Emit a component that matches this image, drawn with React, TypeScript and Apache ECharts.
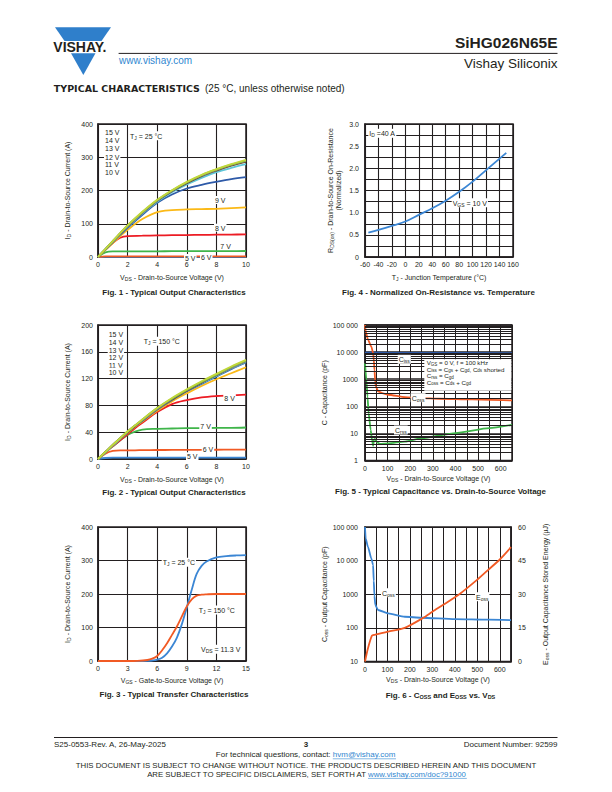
import React, { useEffect, useRef } from 'react';
import * as echarts from 'echarts';

const FONT = '"Liberation Sans", Arial, Helvetica, sans-serif';
const INK = '#231f20';
const LBLUE = '#3b86d4';
const DBLUE = '#2e5aa8';
const ORANGE = '#f15a24';
const GREEN = '#3fb54a';
const RED = '#ec1c24';
const YELLOW = '#fbb917';
const LIME = '#c2d83a';
const CYAN = '#5ec6d8';
const BROWN = '#6b3f22';
const GREY = '#8a8a8a';
const MGREEN = '#7cb342';
const LINK = '#2f86d0';
const LOGO = '#2f7fcb';

// ---------- Fig. 1 (TJ = 25 °C) ----------
const fig1Vds = [0, 0.5, 1, 1.5, 2, 3, 4, 5, 6, 7, 8, 9, 10];
const fig1I15 = [0, 24, 48, 72, 95, 136, 172, 201, 226, 247, 264, 279, 292];
const fig1I14 = [0, 24, 48, 72, 95, 135, 171, 200, 225, 246, 263, 278, 290];
const fig1I13 = [0, 24, 48, 71, 94, 134, 170, 199, 224, 245, 262, 277, 289];
const fig1I12 = [0, 23, 47, 70, 93, 133, 169, 198, 222, 243, 260, 275, 287];
const fig1I11 = [0, 23, 46, 69, 91, 131, 166, 195, 218, 238, 255, 268, 279];
const fig1I10 = [0, 22, 45, 67, 88, 127, 163, 188, 206, 217, 226, 234, 240];
const fig1I9 = [0, 21, 42, 63, 82, 114, 135, 141, 143, 144, 145, 147, 149];
const fig1I8 = [0, 22, 42, 58, 63, 64, 65, 65.5, 66, 66.5, 67, 67.5, 68];
const fig1I7 = [0, 14, 17, 17, 17, 17, 17.2, 17.4, 17.5, 17.6, 17.8, 17.9, 18];
const fig1I6 = [0, 1.8, 2, 2, 2, 2, 2, 2, 2, 2, 2, 2, 2];
const fig1I5 = [0, 0.5, 0.5, 0.5, 0.5, 0.5, 0.5, 0.5, 0.5, 0.5, 0.5, 0.5, 0.5];

// ---------- Fig. 2 (TJ = 150 °C) ----------
const fig2Vds = [0, 0.5, 1, 1.5, 2, 2.5, 3, 4, 5, 6, 7, 8, 9, 10];
const fig2I15 = [0, 10.5, 21, 31, 41, 50, 59, 76, 91, 104, 116, 127, 138, 148];
const fig2I14 = [0, 10.5, 21, 31, 41, 50, 59, 76, 90, 103, 115, 126, 137, 147];
const fig2I13 = [0, 10.5, 21, 31, 41, 50, 58, 75, 90, 103, 115, 126, 136, 146.5];
const fig2I12 = [0, 10.5, 21, 31, 40, 49, 58, 75, 89, 102, 114, 125, 136, 146];
const fig2I11 = [0, 10, 20, 30, 40, 49, 58, 75, 89, 102, 113, 124, 135, 145];
const fig2I10 = [0, 10, 20, 30, 40, 49, 57, 74, 88, 101, 112, 123, 134, 144];
const fig2I9 = [0, 10, 20, 30, 39, 48, 56, 72, 86, 98, 109, 119, 128, 137];
const fig2I8 = [0, 10, 19, 28, 37, 46, 54, 70, 82, 88, 92, 94, 95, 96];
const fig2I7 = [0, 10, 19, 28, 36, 41, 44, 45, 45.5, 46, 46, 46.5, 46.5, 47];
const fig2I6 = [0, 8, 12, 13, 13, 13, 13.2, 13.4, 13.5, 13.6, 13.7, 13.8, 13.9, 14];
const fig2I5 = [0, 1.5, 2, 2, 2, 2, 2, 2, 2, 2, 2, 2, 2, 2];

// ---------- Fig. 3 (transfer) ----------
const fig3Vgs = [0, 3, 4, 5, 5.5, 6, 6.5, 7, 7.5, 8, 8.5, 9, 9.5, 10, 10.5, 11, 12, 13, 14, 15];
const fig3I25 = [0, 0, 0, 0.5, 1.5, 4, 10, 23, 43, 70, 110, 160, 213, 260, 284, 297, 309, 313, 315, 316];
const fig3I150 = [0, 0, 0.5, 3, 7, 15, 32, 53, 78, 103, 133, 163, 184, 195, 198, 199, 200, 200, 200, 200];

// ---------- Fig. 4 (normalized RDS(on)) ----------
const fig4Tj = [-55, -40, -20, 0, 20, 40, 60, 80, 100, 120, 140, 150];
const fig4Rn = [0.55, 0.61, 0.7, 0.8, 0.95, 1.1, 1.27, 1.47, 1.7, 1.96, 2.22, 2.35];

// ---------- Fig. 5 (capacitances) ----------
const fig5CissV = [0, 100, 300, 650];
const fig5Ciss = [9600, 9400, 9300, 9200];
const fig5CossV = [0, 3, 13, 28, 36, 39, 42, 45, 48, 58, 80, 103, 177, 250, 326, 474, 650];
const fig5Coss = [100000, 58000, 29000, 16000, 9200, 5000, 2200, 900, 540, 355, 300, 267, 218, 200, 190, 180, 165];
const fig5CrssV = [0, 6, 11, 16, 25, 31, 36, 40, 44, 52, 66, 103, 177, 251, 400, 549, 650];
const fig5Crss = [3900, 950, 230, 56, 13.6, 5.8, 3.5, 6.0, 6.3, 4.8, 4.1, 4.3, 5.0, 6.7, 10.3, 15.7, 20.8];

// ---------- Fig. 6 (Coss and Eoss) ----------
const fig6CossV = [0, 3, 13, 28, 36, 39, 42, 46, 58, 103, 177, 251, 400, 549, 650];
const fig6Coss = [100000, 45700, 25900, 11700, 7400, 2500, 900, 480, 340, 270, 214, 200, 182, 175, 170];
const fig6EossV = [0, 13, 31, 43, 103, 177, 260, 300, 350, 420, 500, 550, 600, 650];
const fig6Eoss = [0, 5.8, 11.5, 11.9, 13.3, 15, 19.5, 22.2, 25.4, 30, 36.5, 41, 45.5, 51];

// ---------- tick labels ----------
const logTickValues = [1, 10, 100, 1000, 10000, 100000];
const logTickLabels = ['1', '10', '100', '1000', '10 000', '100 000'];
const minorSteps = [2, 3, 4, 5, 6, 7, 8, 9];
const fig5Decades = [1, 10, 100, 1000, 10000];

const RICH: any = {
  s: { fontSize: 5, fontFamily: FONT, fill: INK, color: INK, padding: [3, 0, 0, 0] },
};
const RICH_SMALL: any = {
  s: { fontSize: 4.5, fontFamily: FONT, fill: INK, color: INK, padding: [3, 0, 0, 0] },
};
const RICH_BOLD: any = {
  b: { fontSize: 5.5, fontWeight: 'bold', fontFamily: FONT, fill: INK, color: INK, padding: [3, 0, 0, 0] },
};

const zip = (xs: number[], ys: number[]) => xs.map((x, i) => [x, ys[i]]);

const logFmt = (v: number) => {
  const i = logTickValues.findIndex((t) => Math.abs(Math.log10(t) - Math.log10(v)) < 1e-6);
  return i >= 0 ? logTickLabels[i] : '';
};

function axis(gridIndex: number, extra: any) {
  return {
    gridIndex,
    nameLocation: 'middle',
    nameTextStyle: { fontSize: 7, color: INK, fontFamily: FONT, rich: RICH, lineHeight: 8 },
    axisLine: { show: true, onZero: false, lineStyle: { color: INK, width: 1.5 } },
    axisTick: { show: false },
    splitLine: { show: true, lineStyle: { color: INK, width: 1.1 } },
    axisLabel: { fontSize: 7, color: INK, fontFamily: FONT, margin: 5 },
    ...extra,
  };
}

function line(xi: number, yi: number, xs: number[], ys: number[], color: string, extra: any = {}) {
  return {
    type: 'line',
    xAxisIndex: xi,
    yAxisIndex: yi,
    data: zip(xs, ys),
    symbol: 'none',
    showSymbol: false,
    smooth: 0.35,
    silent: true,
    clip: true,
    z: 3,
    lineStyle: { color, width: 1.8 },
    ...extra,
  };
}

function txt(text: string, x: number, y: number, o: any = {}) {
  return {
    type: 'text',
    z: 100,
    silent: true,
    style: {
      text,
      x,
      y,
      fill: INK,
      fontSize: 7,
      fontFamily: FONT,
      align: 'left',
      verticalAlign: 'middle',
      rich: RICH,
      ...o,
    },
  };
}
const BG = { backgroundColor: '#fff', padding: [1, 1, 0, 1] };

function hline(x1: number, x2: number, y: number, color = INK, w = 1) {
  return { type: 'line', z: 100, silent: true, shape: { x1, y1: y, x2, y2: y }, style: { stroke: color, lineWidth: w } };
}

function buildOption() {
  const grids = [
    { left: 98, top: 124, width: 148, height: 133 }, // fig1
    { left: 365, top: 124, width: 148, height: 133 }, // fig4
    { left: 98, top: 325, width: 148, height: 134 }, // fig2
    { left: 365, top: 325, width: 147, height: 135.5 }, // fig5
    { left: 98, top: 527, width: 148, height: 134 }, // fig3
    { left: 365, top: 527, width: 146, height: 134.5 }, // fig6
  ].map((g) => ({ ...g, show: true, borderColor: INK, borderWidth: 1.5, backgroundColor: 'transparent' }));

  const hundreds = (v: number) => (v % 100 === 0 ? String(v) : '');

  const xAxis = [
    axis(0, { type: 'value', min: 0, max: 10, interval: 2, name: 'V{s|DS} - Drain-to-Source Voltage (V)', nameGap: 16, axisLabel: { fontSize: 7, color: INK, fontFamily: FONT, margin: 4 } }),
    axis(1, { type: 'value', min: -60, max: 160, interval: 20, name: 'T{s|J} - Junction Temperature (°C)', nameGap: 16, axisLabel: { fontSize: 7, color: INK, fontFamily: FONT, margin: 4 } }),
    axis(2, { type: 'value', min: 0, max: 10, interval: 2, name: 'V{s|DS} - Drain-to-Source Voltage (V)', nameGap: 16, axisLabel: { fontSize: 7, color: INK, fontFamily: FONT, margin: 4 } }),
    axis(3, { type: 'value', min: 0, max: 650, interval: 50, name: 'V{s|DS} - Drain-to-Source Voltage (V)', nameGap: 14, splitLine: { show: true, lineStyle: { color: INK, width: 1 } }, axisLabel: { fontSize: 7, color: INK, fontFamily: FONT, margin: 4, formatter: hundreds } }),
    axis(4, { type: 'value', min: 0, max: 15, interval: 3, name: 'V{s|GS} - Gate-to-Source Voltage (V)', nameGap: 15.5, axisLabel: { fontSize: 7, color: INK, fontFamily: FONT, margin: 4 } }),
    axis(5, { type: 'value', min: 0, max: 650, interval: 50, name: 'V{s|DS} - Drain-to-Source Voltage (V)', nameGap: 14, splitLine: { show: true, lineStyle: { color: INK, width: 1 } }, axisLabel: { fontSize: 7, color: INK, fontFamily: FONT, margin: 4, formatter: hundreds } }),
  ];

  const yAxis = [
    axis(0, { type: 'value', min: 0, max: 400, interval: 100, name: 'I{s|D} - Drain-to-Source Current (A)', nameGap: 27, nameRotate: 90 }),
    axis(1, {
      type: 'value', min: 0, max: 3, interval: 0.25, nameRotate: 90, nameGap: 23,
      name: 'R{s|DS(on)} - Drain-to-Source On-Resistance\n(Normalized)',
      axisLabel: {
        fontSize: 7, color: INK, fontFamily: FONT, margin: 6,
        formatter: (v: number) => (Math.round(v * 100) % 50 === 0 ? (v === 0 ? '0' : v.toFixed(1)) : ''),
      },
    }),
    axis(2, { type: 'value', min: 0, max: 200, interval: 40, name: 'I{s|D} - Drain-to-Source Current (A)', nameGap: 27, nameRotate: 90 }),
    axis(3, {
      type: 'log', logBase: 10, min: 1, max: 100000, splitNumber: 5, name: 'C - Capacitance (pF)', nameGap: 31, nameRotate: 90,
      splitLine: { show: true, lineStyle: { color: INK, width: 1.6 } },
      axisLabel: { fontSize: 7, color: INK, fontFamily: FONT, margin: 7, formatter: logFmt },
    }),
    axis(4, { type: 'value', min: 0, max: 400, interval: 100, name: 'I{s|D} - Drain-to-Source Current (A)', nameGap: 27, nameRotate: 90 }),
    axis(5, {
      type: 'log', logBase: 10, min: 10, max: 100000, splitNumber: 4, name: 'C{s|oss} - Output Capacitance (pF)', nameGap: 37, nameRotate: 90,
      axisLabel: { fontSize: 7, color: INK, fontFamily: FONT, margin: 7, formatter: logFmt },
    }),
    axis(5, {
      type: 'value', position: 'right', min: 0, max: 60, interval: 15, name: 'E{s|oss} - Output Capacitance Stored Energy (µJ)', nameGap: 30, nameRotate: 90,
      splitLine: { show: false },
      axisLabel: { fontSize: 7, color: INK, fontFamily: FONT, margin: 7 },
    }),
  ];

  const minorLines: any[] = [];
  fig5Decades.forEach((d) => minorSteps.forEach((k) => minorLines.push({ yAxis: k * d })));

  const series: any[] = [
    // Fig 1
    line(0, 0, fig1Vds, fig1I5, LBLUE),
    line(0, 0, fig1Vds, fig1I6, ORANGE),
    line(0, 0, fig1Vds, fig1I7, GREEN),
    line(0, 0, fig1Vds, fig1I8, RED),
    line(0, 0, fig1Vds, fig1I9, YELLOW),
    line(0, 0, fig1Vds, fig1I10, DBLUE),
    line(0, 0, fig1Vds, fig1I11, CYAN),
    line(0, 0, fig1Vds, fig1I12, BROWN),
    line(0, 0, fig1Vds, fig1I13, GREY),
    line(0, 0, fig1Vds, fig1I14, MGREEN),
    line(0, 0, fig1Vds, fig1I15, LIME),
    // Fig 4
    line(1, 1, fig4Tj, fig4Rn, LBLUE),
    // Fig 2
    line(2, 2, fig2Vds, fig2I5, LBLUE),
    line(2, 2, fig2Vds, fig2I6, ORANGE),
    line(2, 2, fig2Vds, fig2I7, GREEN),
    line(2, 2, fig2Vds, fig2I8, RED),
    line(2, 2, fig2Vds, fig2I9, YELLOW),
    line(2, 2, fig2Vds, fig2I10, DBLUE),
    line(2, 2, fig2Vds, fig2I11, CYAN),
    line(2, 2, fig2Vds, fig2I12, BROWN),
    line(2, 2, fig2Vds, fig2I13, GREY),
    line(2, 2, fig2Vds, fig2I14, MGREEN),
    line(2, 2, fig2Vds, fig2I15, LIME),
    // Fig 5 minor log grid
    {
      type: 'line', xAxisIndex: 3, yAxisIndex: 3, data: [[0, 1]], symbol: 'none', silent: true, z: 1,
      lineStyle: { opacity: 0 },
      markLine: { silent: true, symbol: ['none', 'none'], label: { show: false }, lineStyle: { color: INK, width: 1.1, type: 'solid' }, data: minorLines },
    },
    line(3, 3, fig5CissV, fig5Ciss, DBLUE),
    line(3, 3, fig5CossV, fig5Coss, ORANGE, { smooth: 0.2, smoothMonotone: 'x' }),
    line(3, 3, fig5CrssV, fig5Crss, GREEN, { smooth: 0.2, smoothMonotone: 'x' }),
    // Fig 3
    line(4, 4, fig3Vgs, fig3I25, LBLUE),
    line(4, 4, fig3Vgs, fig3I150, ORANGE),
    // Fig 6
    line(5, 5, fig6CossV, fig6Coss, LBLUE, { smooth: 0.2, smoothMonotone: 'x' }),
    line(5, 6, fig6EossV, fig6Eoss, ORANGE, { smooth: 0.25 }),
  ];

  const cap = (text: string, x: number, y: number) =>
    txt(text, x, y, { fontSize: 8, fontWeight: 'bold', align: 'center', rich: RICH_BOLD });

  const graphic: any[] = [
    // ----- header -----
    { type: 'polygon', z: 100, silent: true, shape: { points: [[55, 27.3], [111, 27.3], [101.5, 41], [64.5, 41]] }, style: { fill: LOGO } },
    { type: 'polygon', z: 100, silent: true, shape: { points: [[71, 53.3], [95.5, 53.3], [83.3, 75]] }, style: { fill: LOGO } },
    txt('VISHAY.', 53.3, 47.2, { fontSize: 14, fontWeight: 'bold' }),
    txt('www.vishay.com', 119, 60.3, { fontSize: 10, fill: LINK }),
    hline(118.6, 557.5, 53.4, INK, 1),
    txt('SiHG026N65E', 557.5, 42.4, { fontSize: 15.5, fontWeight: 'bold', align: 'right' }),
    txt('Vishay Siliconix', 557.5, 63.8, { fontSize: 13.5, align: 'right' }),
    txt('TYPICAL CHARACTERISTICS', 53.8, 88, { fontSize: 9.5, fontWeight: 'bold', fontFamily: '"DejaVu Sans", sans-serif' }),
    txt('(25 °C, unless otherwise noted)', 205, 88, { fontSize: 10 }),

    // ----- Fig 1 annotations -----
    txt('15 V', 104, 131.7, BG),
    txt('14 V', 104, 139.8, BG),
    txt('13 V', 104, 148.2, BG),
    txt('12 V', 104, 156.5, BG),
    txt('11 V', 104, 164.3, BG),
    txt('10 V', 104, 171.8, BG),
    txt('T{s|J} = 25 °C', 129, 135.7, BG),
    txt('9 V', 214, 200, BG),
    txt('8 V', 214, 227.7, BG),
    txt('7 V', 219.3, 245.7, BG),
    txt('6 V', 200, 256.5, BG),
    txt('5 V', 184, 258, BG),
    cap('Fig. 1 - Typical Output Characteristics', 174, 292),

    // ----- Fig 4 annotations -----
    txt('I{s|D} =40 A', 368.3, 133.3, BG),
    txt('V{s|GS} = 10 V', 451.7, 202.7, BG),
    cap('Fig. 4 - Normalized On-Resistance vs. Temperature', 438.5, 292),

    // ----- Fig 2 annotations -----
    txt('15 V', 107.7, 334, BG),
    txt('14 V', 107.7, 342, BG),
    txt('13 V', 107.7, 349.7, BG),
    txt('12 V', 107.7, 357.3, BG),
    txt('11 V', 107.7, 364.7, BG),
    txt('10 V', 107.7, 371.7, BG),
    txt('T{s|J} = 150 °C', 142.7, 341.3, BG),
    txt('8 V', 223.3, 398, BG),
    txt('7 V', 199.3, 426.3, BG),
    txt('6 V', 201.7, 448.7, BG),
    txt('5 V', 186, 456.3, BG),
    cap('Fig. 2 - Typical Output Characteristics', 174, 492.3),

    // ----- Fig 5 annotations -----
    txt('C{s|iss}', 397.7, 359.3, BG),
    txt('C{s|oss}', 410.7, 397.7, BG),
    txt('C{s|rss}', 394, 430, BG),
    { type: 'rect', z: 99, silent: true, shape: { x: 424.3, y: 359.3, width: 87, height: 31.4 }, style: { fill: '#fff' } },
    txt('V{s|GS} = 0 V, f = 100 kHz', 426.7, 362.8, { fontSize: 6.2, rich: RICH_SMALL }),
    txt('C{s|iss} = C{s|gs} + C{s|gd}, C{s|ds} shorted', 426.7, 369, { fontSize: 6.2, rich: RICH_SMALL }),
    txt('C{s|rss} = C{s|gd}', 426.7, 375.5, { fontSize: 6.2, rich: RICH_SMALL }),
    txt('C{s|oss} = C{s|ds} + C{s|gd}', 426.7, 382, { fontSize: 6.2, rich: RICH_SMALL }),
    cap('Fig. 5 - Typical Capacitance vs. Drain-to-Source Voltage', 440.5, 491.5),

    // ----- Fig 3 annotations -----
    txt('T{s|J} = 25 °C', 161.7, 562.3, BG),
    txt('T{s|J} = 150 °C', 197.7, 610, BG),
    txt('V{s|DS} = 11.3 V', 200, 649.3, BG),
    cap('Fig. 3 - Typical Transfer Characteristics', 174, 694.3),

    // ----- Fig 6 annotations -----
    txt('C{s|oss}', 381, 592.7, BG),
    txt('E{s|oss}', 475, 596.7, BG),
    cap('Fig. 6 - C{b|OSS} and E{b|OSS} vs. V{b|DS}', 440.5, 695),

    // ----- footer -----
    hline(54, 557.5, 737.5, INK, 1),
    txt('S25-0553-Rev. A, 26-May-2025', 54, 744, { fontSize: 8 }),
    txt('3', 306, 744.5, { fontSize: 8, fontWeight: 'bold', align: 'center' }),
    txt('Document Number: 92599', 557.5, 744, { fontSize: 8, align: 'right' }),
    txt('For technical questions, contact: ', 332.8, 754.5, { fontSize: 8, align: 'right' }),
    txt('hvm@vishay.com', 332.8, 754.5, { fontSize: 8, fill: LINK }),
    hline(332.8, 396, 758.8, LINK, 0.6),
    txt('THIS DOCUMENT IS SUBJECT TO CHANGE WITHOUT NOTICE. THE PRODUCTS DESCRIBED HEREIN AND THIS DOCUMENT', 306, 765.3, { fontSize: 7.8, align: 'center' }),
    txt('ARE SUBJECT TO SPECIFIC DISCLAIMERS, SET FORTH AT ', 368, 774.2, { fontSize: 7.8, align: 'right' }),
    txt('www.vishay.com/doc?91000', 368, 774.2, { fontSize: 7.8, fill: LINK }),
    hline(368, 466.8, 778.4, LINK, 0.6),
  ];

  return {
    animation: false,
    backgroundColor: '#fff',
    textStyle: { fontFamily: FONT },
    grid: grids,
    xAxis,
    yAxis,
    series,
    graphic,
  };
}

export default function App() {
  const ref = useRef<HTMLDivElement>(null);
  useEffect(() => {
    const chart = echarts.init(ref.current as HTMLDivElement, null, { renderer: 'svg', width: 612, height: 792 });
    chart.setOption(buildOption() as any);
    return () => chart.dispose();
  }, []);
  return (
    <div
      ref={ref}
      style={{ position: 'absolute', left: 0, top: 0, width: 612, height: 792, background: '#fff' }}
    />
  );
}
